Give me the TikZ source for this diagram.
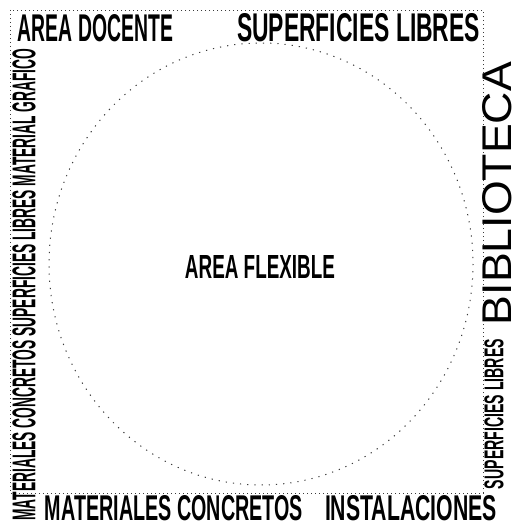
\documentclass[tikz,border=0pt]{standalone}
\usepackage{fontspec}
\usepackage{graphicx}
\setmainfont{Liberation Sans}
\usetikzlibrary{positioning}
\definecolor{dotGray}{RGB}{60,60,60}
\tikzset{
  zone/.style={inner sep=0pt, outer sep=0pt, font=\bfseries},
  bigzone/.style={inner sep=0pt, outer sep=0pt, font=\normalfont},
  frameline/.style={dotGray, line width=0.6pt, dash pattern=on 0.8pt off 3.2pt},
  bubble/.style={dotGray, line width=1pt, dash pattern=on 1.2pt off 6pt}
}
\newcommand{\fitlabel}[3]{\resizebox{#1pt}{#2pt}{#3}}

\begin{document}
\begin{tikzpicture}[x=1pt,y=-1pt]
  \useasboundingbox (0,0) rectangle (516,526);

  % Frame and flexible area
  \draw[frameline] (10,10) rectangle (483,493);
  \draw[bubble] (261,264) ellipse [x radius=212, y radius=221];

  % Top labels
  \node[zone] (docente) at (95.5,28) {\fitlabel{155}{27}{AREA DOCENTE}};
  \node[zone] (librestop) at (358.5,27.5) {\fitlabel{243}{28}{SUPERFICIES LIBRES}};

  % Centre
  \node[zone] (flexible) at (260,266.5) {\fitlabel{150}{23}{AREA FLEXIBLE}};

  % Bottom labels
  \node[zone] (concretos) at (174,508.5) {\fitlabel{258}{25}{MATERIALES CONCRETOS}};
  \node[zone] (instalaciones) at (411,508.5) {\fitlabel{172}{25}{INSTALACIONES}};

  % Side labels
  \node[zone, rotate=90] (lateral) at (24,284.5) {\fitlabel{472}{23}{MATERIALES CONCRETOS SUPERFICIES LIBRES MATERIAL GRAFICO}};
  \node[bigzone, rotate=90] (biblioteca) at (497,193.5) {\fitlabel{263}{29}{BIBLIOTECA}};
  \node[zone, rotate=90] (libresright) at (494,414) {\fitlabel{150}{19}{SUPERFICIES LIBRES}};
\end{tikzpicture}
\end{document}
